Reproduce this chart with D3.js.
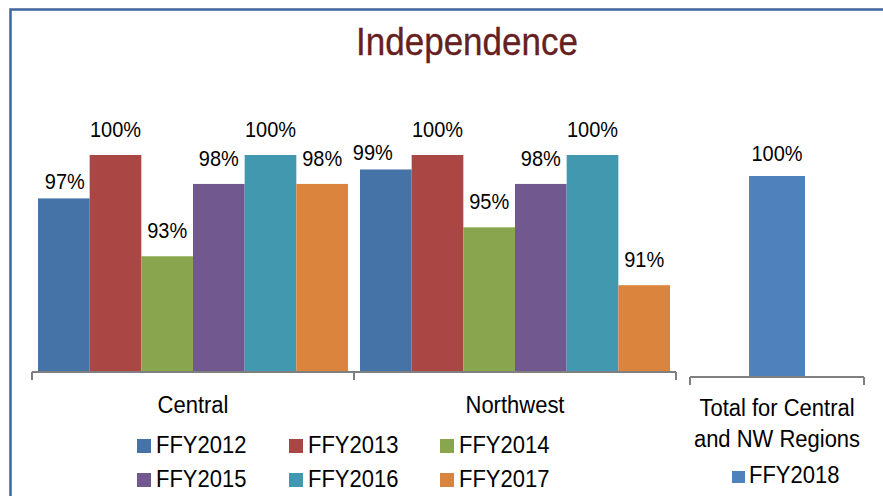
<!DOCTYPE html>
<html>
<head>
<meta charset="utf-8">
<script src="https://cdn.jsdelivr.net/npm/d3@7"></script>
<style>
  html, body { margin: 0; padding: 0; background: #fff; }
  svg { display: block; font-family: "Liberation Sans", Arial, sans-serif; }
</style>
</head>
<body>
<svg id="chart" width="883" height="496"></svg>
<script>
// Regions on the main panel and the fiscal years compared within each
const regions = ["Central", "Northwest"];
const years = ["FFY2012", "FFY2013", "FFY2014", "FFY2015", "FFY2016", "FFY2017"];
const centralValues = [97, 100, 93, 98, 100, 98];
const northwestValues = [99, 100, 95, 98, 100, 91];

// Combined total shown in the side panel
const totalCategory = ["Total for Central", "and NW Regions"];
const totalYear = "FFY2018";
const totalValue = 100;

const yearColors = ["#4572A7", "#AA4643", "#89A54E", "#71588F", "#4198AF", "#DB843D"];
const totalColor = "#4F81BD";

const regionValues = { Central: centralValues, Northwest: northwestValues };

const svg = d3.select("#chart");
const axisColor = "#7F7F7F";
const textStretch = 1.1; // glyphs are drawn slightly taller than the regular face

// Places a text selection at (x, y) with the vertical stretch applied
function place(sel, fx, fy) {
  return sel.attr("transform", (d, i) => {
    const px = typeof fx === "function" ? fx(d, i) : fx;
    const py = typeof fy === "function" ? fy(d, i) : fy;
    return `translate(${px},${py}) scale(1,${textStretch})`;
  });
}

// Outer frame (only its top and left edges fall inside the view)
svg.append("rect")
  .attr("x", 10.5).attr("y", 9.5)
  .attr("width", 900).attr("height", 520)
  .attr("fill", "none")
  .attr("stroke", "#3F659C")
  .attr("stroke-width", 2.5);

// Title
place(svg.append("text"), 467, 55)
  .attr("text-anchor", "middle")
  .attr("font-size", 35)
  .attr("fill", "#66201F")
  .attr("stroke", "#66201F")
  .attr("stroke-width", 0.3)
  .text("Independence");

// ---------- Main grouped bar panel ----------
const baseY = 372;
const x0 = d3.scaleBand().domain(regions).range([32, 676]);
const x1 = d3.scaleBand().domain(years).range([6, x0.bandwidth() - 6]);
const y = d3.scaleLinear().domain([85, 100]).range([baseY, 155]);

const rows = regions.flatMap(r => years.map((yr, i) => ({ region: r, year: yr, i, value: regionValues[r][i] })));

svg.append("g").selectAll("rect")
  .data(rows)
  .join("rect")
  .attr("x", d => x0(d.region) + x1(d.year))
  .attr("y", d => y(d.value))
  .attr("width", x1.bandwidth())
  .attr("height", d => baseY - y(d.value))
  .attr("fill", d => yearColors[d.i]);

// Value labels above each bar; a couple are nudged to keep clear of neighbours
const labelNudge = {
  "Central|FFY2012": { dx: 1, dy: 9 },
  "Northwest|FFY2012": { dx: -13, dy: 9 }
};
const nudge = d => labelNudge[d.region + "|" + d.year] || { dx: 0, dy: 0 };
place(svg.append("g").selectAll("text").data(rows).join("text"),
    d => x0(d.region) + x1(d.year) + x1.bandwidth() / 2 + nudge(d).dx,
    d => y(d.value) - 18 + nudge(d).dy)
  .attr("text-anchor", "middle")
  .attr("font-size", 20)
  .attr("fill", "#000")
  .text(d => d.value + "%");

// Category axis with tick marks at band boundaries
const axisG = svg.append("g").attr("stroke", axisColor).attr("stroke-width", 2).attr("fill", "none");
axisG.append("line")
  .attr("x1", x0.range()[0]).attr("x2", x0.range()[1])
  .attr("y1", baseY).attr("y2", baseY);
const bounds = regions.map(r => x0(r)).concat([x0.range()[1]]);
axisG.selectAll("line.tick")
  .data(bounds)
  .join("line")
  .attr("class", "tick")
  .attr("x1", d => d).attr("x2", d => d)
  .attr("y1", baseY).attr("y2", baseY + 8);

place(svg.append("g").selectAll("text").data(regions).join("text"),
    d => x0(d) + x0.bandwidth() / 2, 413)
  .attr("text-anchor", "middle")
  .attr("font-size", 22)
  .attr("fill", "#000")
  .text(d => d);

// Legend for the yearly series (3 columns x 2 rows)
const legendCols = [137, 289, 440];
const legendRows = [453, 487];
const items = svg.append("g").selectAll("g")
  .data(years)
  .join("g")
  .attr("transform", (d, i) => `translate(${legendCols[i % 3]},${legendRows[Math.floor(i / 3)]})`);
items.append("rect")
  .attr("x", 0).attr("y", -14)
  .attr("width", 14).attr("height", 14)
  .attr("fill", (d, i) => yearColors[i]);
place(items.append("text"), 19, 0)
  .attr("font-size", 22)
  .attr("fill", "#000")
  .text(d => d);

// ---------- Side panel: combined total ----------
const tBase = 377;
const xt = d3.scaleBand().domain([totalCategory.join(" ")]).range([690, 864]);
const yt = d3.scaleLinear().domain([0, 110]).range([tBase - 1, 156]);
const barW = 56;
const tCat = xt.domain()[0];
const tCenter = xt(tCat) + xt.bandwidth() / 2;

svg.append("rect")
  .attr("x", tCenter - barW / 2)
  .attr("y", yt(totalValue))
  .attr("width", barW)
  .attr("height", yt(0) - yt(totalValue))
  .attr("fill", totalColor);

place(svg.append("text"), tCenter, yt(totalValue) - 15)
  .attr("text-anchor", "middle")
  .attr("font-size", 20)
  .attr("fill", "#000")
  .text(totalValue + "%");

const tAxis = svg.append("g").attr("stroke", axisColor).attr("stroke-width", 2).attr("fill", "none");
tAxis.append("line")
  .attr("x1", xt.range()[0]).attr("x2", xt.range()[1])
  .attr("y1", tBase).attr("y2", tBase);
tAxis.selectAll("line.tick")
  .data(xt.range())
  .join("line")
  .attr("class", "tick")
  .attr("x1", d => d).attr("x2", d => d)
  .attr("y1", tBase).attr("y2", tBase + 8);

place(svg.append("g").selectAll("text").data(totalCategory).join("text"),
    tCenter, (d, i) => 416 + i * 31)
  .attr("text-anchor", "middle")
  .attr("font-size", 22)
  .attr("fill", "#000")
  .text(d => d);

const tLegend = svg.append("g").attr("transform", "translate(732,483)");
tLegend.append("rect")
  .attr("x", 0).attr("y", -12)
  .attr("width", 13).attr("height", 12)
  .attr("fill", totalColor);
place(tLegend.append("text"), 17, 0)
  .attr("font-size", 22)
  .attr("fill", "#000")
  .text(totalYear);
</script>
</body>
</html>
